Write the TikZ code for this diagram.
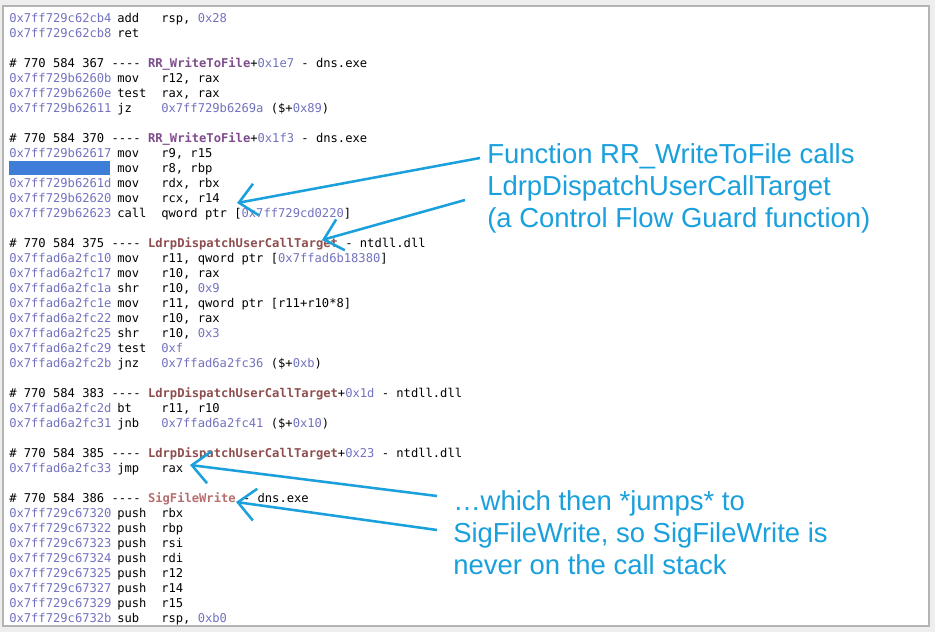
\documentclass[tikz,border=0pt]{standalone}
\usepackage{fontspec}
\setmonofont{DejaVu Sans Mono}
\setsansfont{Liberation Sans}
\usetikzlibrary{arrows.meta,positioning}
\definecolor{addrblue}{HTML}{7272C0}
\definecolor{fnpurple}{HTML}{7E4C8C}
\definecolor{fnbrown}{HTML}{8E4E4E}
\definecolor{fnrose}{HTML}{B86E6E}
\definecolor{noteblue}{HTML}{1AA0DC}
\definecolor{selblue}{HTML}{3E7ED8}
\definecolor{winframe}{HTML}{B4B4B4}
\definecolor{winbg}{HTML}{EEEEEE}

% one disassembly line: y, address, mnemonic, operands
\newcommand{\asmline}[4]{%
    \node[code, text=addrblue] at (9,#1) {#2};
    \node[code] at (117,#1) {#3};
    \node[code] at (161,#1) {#4};
}
\newcommand{\asmhead}[2]{%
    \node[code] at (9,#1) {#2};
}
\newcommand{\ax}[1]{\textcolor{addrblue}{#1}}

\begin{document}
\begin{tikzpicture}[
    x=0.75pt, y=-0.75pt,
    code/.style={anchor=base west, inner sep=0pt, font=\ttfamily\fontsize{9.1}{10}\selectfont},
    note/.style={anchor=north west, inner sep=0pt, align=left, text=noteblue,
        font=\sffamily\fontsize{20.6}{24}\selectfont},
    pointer/.style={-{Straight Barb[length=13pt,width=24pt]}, noteblue, line width=1.9pt}
]
    % window
    \fill[winbg] (0,0) rectangle (935,632);
    \draw[winframe, fill=white, line width=0.8pt] (3,6) rectangle (929,626);
    \useasboundingbox (0,0) rectangle (935,632);

    % selected address
    \fill[selblue] (9,161) rectangle (110,175);

    % === disassembly ===
    \asmline{22}{0x7ff729c62cb4}{add}{rsp, \ax{0x28}}
    \asmline{37}{0x7ff729c62cb8}{ret}{}

    \asmhead{67}{\# 770 584 367 ---- \textcolor{fnpurple}{\bfseries RR\_WriteToFile}+\ax{0x1e7} - dns.exe}
    \asmline{82}{0x7ff729b6260b}{mov}{r12, rax}
    \asmline{97}{0x7ff729b6260e}{test}{rax, rax}
    \asmline{112}{0x7ff729b62611}{jz}{\ax{0x7ff729b6269a} (\$+\ax{0x89})}

    \asmhead{142}{\# 770 584 370 ---- \textcolor{fnpurple}{\bfseries RR\_WriteToFile}+\ax{0x1f3} - dns.exe}
    \asmline{157}{0x7ff729b62617}{mov}{r9, r15}
    \asmline{172}{}{mov}{r8, rbp}
    \asmline{187}{0x7ff729b6261d}{mov}{rdx, rbx}
    \asmline{202}{0x7ff729b62620}{mov}{rcx, r14}
    \asmline{217}{0x7ff729b62623}{call}{qword ptr [\ax{0x7ff729cd0220}]}

    \asmhead{247}{\# 770 584 375 ---- \textcolor{fnbrown}{\bfseries LdrpDispatchUserCallTarget} - ntdll.dll}
    \asmline{262}{0x7ffad6a2fc10}{mov}{r11, qword ptr [\ax{0x7ffad6b18380}]}
    \asmline{277}{0x7ffad6a2fc17}{mov}{r10, rax}
    \asmline{292}{0x7ffad6a2fc1a}{shr}{r10, \ax{0x9}}
    \asmline{307}{0x7ffad6a2fc1e}{mov}{r11, qword ptr [r11+r10*8]}
    \asmline{322}{0x7ffad6a2fc22}{mov}{r10, rax}
    \asmline{337}{0x7ffad6a2fc25}{shr}{r10, \ax{0x3}}
    \asmline{352}{0x7ffad6a2fc29}{test}{\ax{0xf}}
    \asmline{367}{0x7ffad6a2fc2b}{jnz}{\ax{0x7ffad6a2fc36} (\$+\ax{0xb})}

    \asmhead{397}{\# 770 584 383 ---- \textcolor{fnbrown}{\bfseries LdrpDispatchUserCallTarget}+\ax{0x1d} - ntdll.dll}
    \asmline{412}{0x7ffad6a2fc2d}{bt}{r11, r10}
    \asmline{427}{0x7ffad6a2fc31}{jnb}{\ax{0x7ffad6a2fc41} (\$+\ax{0x10})}

    \asmhead{457}{\# 770 584 385 ---- \textcolor{fnbrown}{\bfseries LdrpDispatchUserCallTarget}+\ax{0x23} - ntdll.dll}
    \asmline{472}{0x7ffad6a2fc33}{jmp}{rax}

    \asmhead{502}{\# 770 584 386 ---- \textcolor{fnrose}{\bfseries SigFileWrite} - dns.exe}
    \asmline{517}{0x7ff729c67320}{push}{rbx}
    \asmline{532}{0x7ff729c67322}{push}{rbp}
    \asmline{547}{0x7ff729c67323}{push}{rsi}
    \asmline{562}{0x7ff729c67324}{push}{rdi}
    \asmline{577}{0x7ff729c67325}{push}{r12}
    \asmline{592}{0x7ff729c67327}{push}{r14}
    \asmline{607}{0x7ff729c67329}{push}{r15}
    \asmline{622}{0x7ff729c6732b}{sub}{rsp, \ax{0xb0}}

    % === annotations ===
    \node[note] (callnote) at (487,143) {Function RR\_WriteToFile calls\\LdrpDispatchUserCallTarget\\ (a Control Flow Guard function)};
    \node[note] (jumpnote) at (453,490) {\dots which then *jumps* to\\SigFileWrite, so SigFileWrite is\\never on the call stack};

    \coordinate (callfrom) at (480,158);
    \coordinate (calltip) at (237,203);
    \coordinate (ldrpfrom) at (465,200);
    \coordinate (ldrptip) at (322,240);
    \coordinate (jmpfrom) at (437,496);
    \coordinate (jmptip) at (190,465);
    \coordinate (sigfrom) at (437,530);
    \coordinate (sigtip) at (236,502);

    \draw[pointer] (callfrom) -- (calltip);
    \draw[pointer] (ldrpfrom) -- (ldrptip);
    \draw[pointer] (jmpfrom) -- (jmptip);
    \draw[pointer] (sigfrom) -- (sigtip);
\end{tikzpicture}
\end{document}
